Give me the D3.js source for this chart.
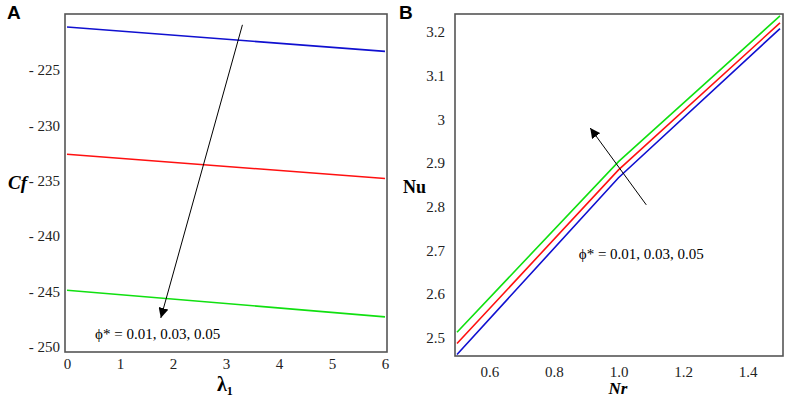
<!DOCTYPE html>
<html>

<head>
    <meta charset="utf-8">
    <script src="https://d3js.org/d3.v7.min.js"></script>
    <style>
        body { margin: 0; background: #fff; }
    </style>
</head>
<body>
    <script>
        // panel A: Cf against lambda_1
        let lambdaVals = [0, 6];
        let cfBlue = [-221.1, -223.3];
        let cfRed = [-232.6, -234.8];
        let cfGreen = [-244.9, -247.3];
        let cfTicks = [-225, -230, -235, -240, -245, -250];
        let lambdaTicks = [0, 1, 2, 3, 4, 5, 6];

        // panel B: Nu against Nr
        let nrVals = [0.5, 1.0, 1.5];
        let nuBlue = [2.461, 2.866, 3.208];
        let nuRed = [2.486, 2.884, 3.221];
        let nuGreen = [2.512, 2.903, 3.237];
        let nuTicks = [2.5, 2.6, 2.7, 2.8, 2.9, 3, 3.1, 3.2];
        let nrTicks = [0.6, 0.8, 1.0, 1.2, 1.4];

        let label = "\u03d5* = 0.01, 0.03, 0.05";
        let colors = { blue: "#1010d0", red: "#ff1010", green: "#10e010" };
        let serif = "'Liberation Serif', 'Times New Roman', serif";

        let width = 789,
            height = 399;

        let svg = d3.select("body").append("svg")
            .attr("width", width)
            .attr("height", height);

        svg.append("defs").append("marker")
            .attr("id", "head")
            .attr("viewBox", "0 0 10 10")
            .attr("refX", 10).attr("refY", 5)
            .attr("markerWidth", 10).attr("markerHeight", 10)
            .attr("markerUnits", "userSpaceOnUse")
            .attr("orient", "auto")
            .append("path")
            .attr("d", "M0,0 L10,5 L0,10 Z")
            .attr("fill", "black");

        function panel(opt) {
            let g = svg.append("g");
            let x = d3.scaleLinear().domain(opt.xDomain).range([opt.left, opt.right]);
            let y = d3.scaleLinear().domain(opt.yDomain).range([opt.bottom, opt.top]);

            // tick labels only, no tick marks
            let xAxis = g.append("g")
                .attr("transform", `translate(0,${opt.bottom})`)
                .call(d3.axisBottom(x).tickValues(opt.xTicks).tickFormat(opt.xFmt).tickSize(0).tickPadding(opt.xPad));
            xAxis.select(".domain").remove();
            xAxis.selectAll("text").style("font-family", serif).style("font-size", "15px").attr("fill", "#222");

            let yAxis = g.append("g")
                .attr("transform", `translate(${opt.left},0)`)
                .call(d3.axisLeft(y).tickValues(opt.yTicks).tickFormat(opt.yFmt).tickSize(0).tickPadding(opt.yPad));
            yAxis.select(".domain").remove();
            yAxis.selectAll("text").style("font-family", serif).style("font-size", "15px").attr("fill", "#222");

            let line = d3.line().x(d => x(d[0])).y(d => y(d[1]));
            opt.series.forEach(s => {
                g.append("path")
                    .datum(opt.xs.map((v, i) => [v, s.values[i]]))
                    .attr("d", line)
                    .attr("fill", "none")
                    .attr("stroke", s.color)
                    .attr("stroke-width", 1.6);
            });

            g.append("rect")
                .attr("x", opt.frame[0]).attr("y", opt.top)
                .attr("width", opt.frame[1] - opt.frame[0])
                .attr("height", opt.bottom - opt.top)
                .attr("fill", "none")
                .attr("stroke", "#555")
                .attr("stroke-width", 1.6);

            g.append("line")
                .attr("x1", x(opt.arrow[0][0])).attr("y1", y(opt.arrow[0][1]))
                .attr("x2", x(opt.arrow[1][0])).attr("y2", y(opt.arrow[1][1]))
                .attr("stroke", "black")
                .attr("stroke-width", 1)
                .attr("marker-end", "url(#head)");

            g.append("text")
                .attr("x", x(opt.note[0])).attr("y", y(opt.note[1]))
                .style("font-family", serif)
                .style("font-size", "15px")
                .text(label);

            g.append("text")
                .attr("x", opt.panelX).attr("y", 19)
                .style("font-family", "'Liberation Sans', Arial, sans-serif")
                .style("font-weight", "bold")
                .style("font-size", "19px")
                .text(opt.name);
            return g;
        }

        let gA = panel({
            name: "A", panelX: 7,
            left: 67, right: 385, top: 14, bottom: 352, frame: [65, 387],
            xDomain: [0, 6], yDomain: [-250.48, -219.92],
            xTicks: lambdaTicks, yTicks: cfTicks,
            xFmt: d3.format("d"), yFmt: d => "- " + Math.abs(d),
            xPad: 6, yPad: 7,
            xs: lambdaVals,
            series: [
                { values: cfBlue, color: colors.blue },
                { values: cfRed, color: colors.red },
                { values: cfGreen, color: colors.green }
            ],
            arrow: [[3.31, -220.9], [1.77, -247.4]],
            note: [0.53, -249.3]
        });

        gA.append("text")
            .attr("x", 8).attr("y", 189)
            .style("font-family", serif)
            .style("font-size", "19px").style("font-weight", "bold").style("font-style", "italic")
            .text("Cf");
        let lam = gA.append("text")
            .attr("x", 217).attr("y", 391)
            .style("font-family", serif)
            .style("font-size", "20px").style("font-weight", "bold");
        lam.append("tspan").text("\u03bb");
        lam.append("tspan").style("font-size", "12px").attr("dy", 4).text("1");

        let gB = panel({
            name: "B", panelX: 399,
            left: 457, right: 780, top: 14, bottom: 356, frame: [455, 783],
            xDomain: [0.5, 1.5], yDomain: [2.4575, 3.2414],
            xTicks: nrTicks, yTicks: nuTicks,
            xFmt: d3.format(".1f"), yFmt: d => String(d),
            xPad: 10, yPad: 12,
            xs: nrVals,
            series: [
                { values: nuBlue, color: colors.blue },
                { values: nuRed, color: colors.red },
                { values: nuGreen, color: colors.green }
            ],
            arrow: [[1.086, 2.804], [0.9125, 2.98]],
            note: [0.877, 2.68]
        });

        gB.append("text")
            .attr("x", 403).attr("y", 193)
            .style("font-family", serif)
            .style("font-size", "18px").style("font-weight", "bold")
            .text("Nu");
        gB.append("text")
            .attr("x", 618).attr("y", 394)
            .attr("text-anchor", "middle")
            .style("font-family", serif)
            .style("font-size", "17px").style("font-weight", "bold").style("font-style", "italic")
            .text("Nr");
    </script>
</body>
</html>
